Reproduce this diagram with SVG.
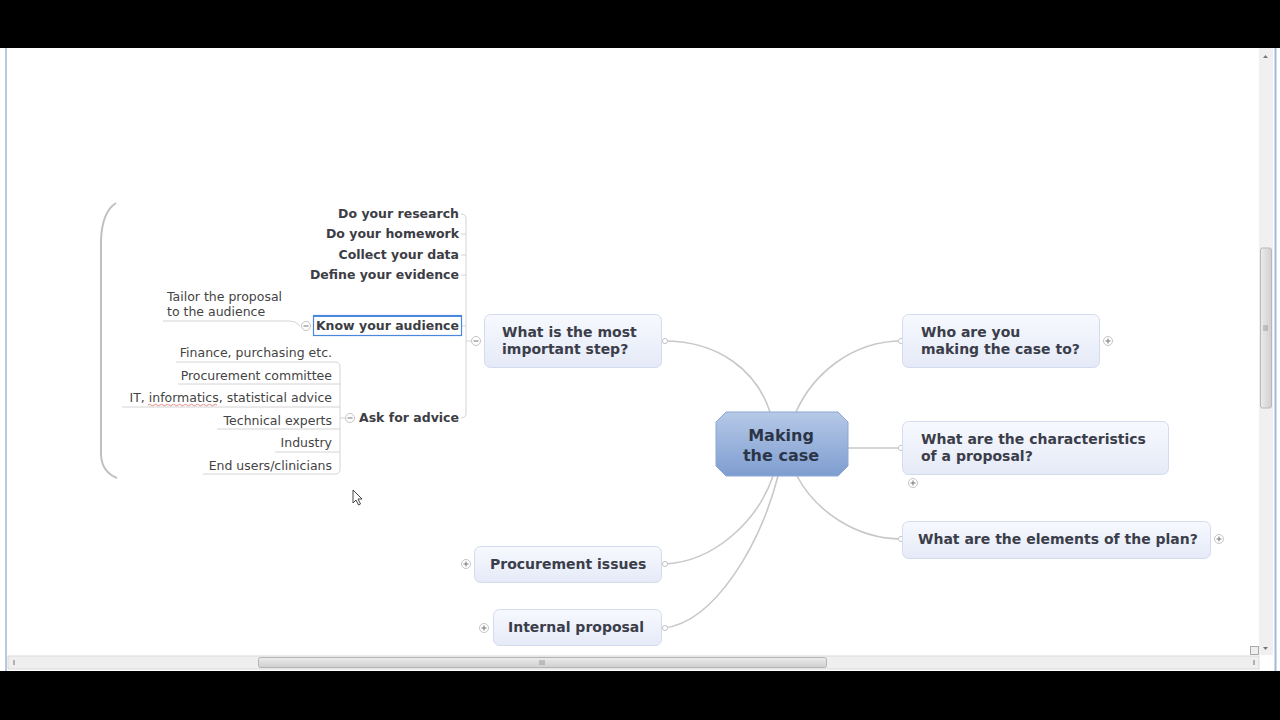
<svg xmlns="http://www.w3.org/2000/svg" width="1280" height="720" viewBox="0 0 1280 720">
<defs>
<linearGradient id="gTopic" x1="0" y1="0" x2="0" y2="1"><stop offset="0" stop-color="#f7f9fe"/><stop offset="1" stop-color="#e5eaf7"/></linearGradient>
<linearGradient id="gCentral" x1="0" y1="0" x2="0" y2="1"><stop offset="0" stop-color="#b6c9e7"/><stop offset="1" stop-color="#7e9dd0"/></linearGradient>
<linearGradient id="gThumbH" x1="0" y1="0" x2="0" y2="1"><stop offset="0" stop-color="#ececec"/><stop offset="1" stop-color="#cfcfcf"/></linearGradient>
<linearGradient id="gThumbV" x1="0" y1="0" x2="1" y2="0"><stop offset="0" stop-color="#ececec"/><stop offset="1" stop-color="#cfcfcf"/></linearGradient>
</defs>
<style>
.topic{fill:url(#gTopic);stroke:#d3dbee;stroke-width:1}
.tt{font-family:"DejaVu Sans",Verdana,sans-serif;font-weight:bold;font-size:14px;fill:#3b3e4a}
.ct{font-family:"DejaVu Sans",Verdana,sans-serif;font-weight:bold;font-size:16px;fill:#2c3548;text-anchor:middle}
.st{font-family:"DejaVu Sans",Verdana,sans-serif;font-weight:bold;font-size:12.5px;fill:#3d3d45;text-anchor:end}
.nt{font-family:"DejaVu Sans",Verdana,sans-serif;font-size:12.5px;fill:#444}
.ntr{font-family:"DejaVu Sans",Verdana,sans-serif;font-size:12.5px;fill:#444;text-anchor:end}
.conn{fill:none;stroke:#c8c8c8;stroke-width:1.6}
.thin{fill:none;stroke:#d4d4d4;stroke-width:1}
.dot{fill:#fff;stroke:#c4c4c4;stroke-width:1}
.tog{fill:#fff;stroke:#c4c4c4;stroke-width:1}
.sym{stroke:#777;stroke-width:1;fill:none}
</style>
<rect x="0" y="0" width="1280" height="720" fill="#000"/>
<rect x="0" y="48" width="1280" height="623" fill="#fff"/>
<line x1="6" y1="48" x2="6" y2="671" stroke="#b8c9df" stroke-width="2"/>
<line x1="1275.5" y1="48" x2="1275.5" y2="671" stroke="#a3b9d8" stroke-width="2"/>
<!-- scrollbars -->
<g id="scrollbars">
<rect x="1259" y="48" width="14" height="607" fill="#f0f0f0"/>
<rect x="1260.5" y="248" width="11" height="160" rx="2" fill="url(#gThumbV)" stroke="#b8b8b8"/>
<path d="M1263 326h5M1263 328h5M1263 330h5" stroke="#888" stroke-width="0.8"/>
<path d="M1263 58l2.5-3 2.5 3z" fill="#777"/>
<path d="M1263 647l2.5 3 2.5-3z" fill="#777"/>
<rect x="8" y="656" width="1251" height="13" fill="#efefef" stroke="#d9d9d9"/>
<rect x="258.5" y="657.5" width="568" height="10" rx="2" fill="url(#gThumbH)" stroke="#b5b5b5"/>
<path d="M540 660v5M542 660v5M544 660v5" stroke="#888" stroke-width="0.8"/>
<path d="M14 660v5" stroke="#888" stroke-width="1.2"/>
<path d="M1254 660v5" stroke="#888" stroke-width="1.2"/>
<rect x="1250.5" y="646.5" width="8" height="8" fill="#eee" stroke="#aaa"/>
</g>
<!-- connectors -->
<g id="connectors">
<path class="conn" d="M664 341 C720 341 757 372 770 412"/>
<path class="conn" d="M796 412 C812 376 850 341 902 341"/>
<path class="conn" d="M848 448 L902 448"/>
<path class="conn" d="M797 476 C815 510 855 539 902 539"/>
<path class="conn" d="M664 564 C715 562 758 520 773 476"/>
<path class="conn" d="M664 628 C715 622 760 545 778 476"/>
<circle class="dot" cx="665" cy="341" r="2.6"/>
<circle class="dot" cx="901" cy="341" r="2.6"/>
<circle class="dot" cx="901" cy="448" r="2.6"/>
<circle class="dot" cx="901" cy="539" r="2.6"/>
<circle class="dot" cx="665" cy="564" r="2.6"/>
<circle class="dot" cx="665" cy="628" r="2.6"/>
<!-- left tree -->
<path class="thin" d="M471 341 L466 341"/>
<path class="thin" d="M461 214 Q466 214 466 219 L466 413 Q466 418 461 418"/>
<path class="thin" d="M461 234 H466 M461 255 H466 M461 275 H466 M462 326 H466"/>
<path class="thin" d="M163 321 H290 Q296 321 300 326"/>
<path class="thin" d="M176 362 H335 Q340 362 340 367 L340 469 Q340 474 335 474 H203"/>
<path class="thin" d="M178 384 H340 M122 407 H340 M217 429 H340 M275 452 H340"/>
<path class="thin" d="M340 418 H345"/>
<path d="M116 203 Q102 212 101 240 L101 455 Q102 472 117 478" fill="none" stroke="#c0c0c0" stroke-width="2"/>
</g>
<g id="central">
<polygon points="726,412 838,412 848,422 848,466 838,476 726,476 716,466 716,422" fill="url(#gCentral)" stroke="#8ba6d4"/>
<text class="ct" x="781" y="441">Making</text>
<text class="ct" x="781" y="461">the case</text>
</g>
<g id="n-step">
<rect class="topic" x="484.5" y="314.5" width="177" height="53" rx="6"/>
<text class="tt" x="502" y="337">What is the most</text>
<text class="tt" x="502" y="354">important step?</text>
<circle class="tog" cx="476" cy="341" r="4.5"/><path class="sym" d="M473.5 341h5"/>
</g>
<g id="n-who">
<rect class="topic" x="902.5" y="314.5" width="197" height="53" rx="6"/>
<text class="tt" x="921" y="337">Who are you</text>
<text class="tt" x="921" y="354">making the case to?</text>
<circle class="tog" cx="1108" cy="341" r="4.5"/><path class="sym" d="M1105.5 341h5M1108 338.5v5"/>
</g>
<g id="n-char">
<rect class="topic" x="902.5" y="421.5" width="266" height="53" rx="6"/>
<text class="tt" x="921" y="444">What are the characteristics</text>
<text class="tt" x="921" y="461">of a proposal?</text>
<circle class="tog" cx="913" cy="483" r="4.5"/><path class="sym" d="M910.5 483h5M913 480.5v5"/>
</g>
<g id="n-elements">
<rect class="topic" x="902.5" y="521.5" width="308" height="37" rx="6"/>
<text class="tt" x="918" y="544">What are the elements of the plan?</text>
<circle class="tog" cx="1219" cy="539" r="4.5"/><path class="sym" d="M1216.5 539h5M1219 536.5v5"/>
</g>
<g id="n-procurement">
<rect class="topic" x="474.5" y="546.5" width="187" height="36" rx="6"/>
<text class="tt" x="490" y="569">Procurement issues</text>
<circle class="tog" cx="466" cy="564" r="4.5"/><path class="sym" d="M463.5 564h5M466 561.5v5"/>
</g>
<g id="n-internal">
<rect class="topic" x="493.5" y="609.5" width="168" height="36" rx="6"/>
<text class="tt" x="508" y="632">Internal proposal</text>
<circle class="tog" cx="484" cy="628" r="4.5"/><path class="sym" d="M481.5 628h5M484 625.5v5"/>
</g>
<g id="n-research"><text class="st" x="459" y="218">Do your research</text></g>
<g id="n-homework"><text class="st" x="459" y="238">Do your homework</text></g>
<g id="n-data"><text class="st" x="459" y="259">Collect your data</text></g>
<g id="n-evidence"><text class="st" x="459" y="279">Define your evidence</text></g>
<g id="n-audience">
<rect x="313.5" y="315.5" width="148" height="20" fill="#fff" stroke="#4a88dc" stroke-width="1.2"/>
<line x1="313.5" y1="316" x2="461.5" y2="316" stroke="#4a88dc" stroke-width="2"/>
<text class="st" x="459" y="330">Know your audience</text>
<circle class="tog" cx="306" cy="326" r="4.5"/><path class="sym" d="M303.5 326h5"/>
</g>
<g id="n-tailor">
<text class="nt" x="167" y="301">Tailor the proposal</text>
<text class="nt" x="167" y="316">to the audience</text>
</g>
<g id="n-advice">
<text class="st" x="459" y="422">Ask for advice</text>
<circle class="tog" cx="350" cy="418" r="4.5"/><path class="sym" d="M347.5 418h5"/>
</g>
<g id="n-finance"><text class="ntr" x="332" y="357">Finance, purchasing etc.</text></g>
<g id="n-committee"><text class="ntr" x="332" y="380">Procurement committee</text></g>
<g id="n-it"><text class="ntr" x="332" y="402">IT, informatics, statistical advice</text>
<path d="M148 405 q1.5 -1.5 3 0 t3 0 t3 0 t3 0 t3 0 t3 0 t3 0 t3 0 t3 0 t3 0 t3 0 t3 0 t3 0 t3 0 t3 0 t3 0 t3 0 t3 0 t3 0 t3 0 t3 0 t3 0 t3 0" fill="none" stroke="#e07070" stroke-width="0.8"/></g>
<g id="n-technical"><text class="ntr" x="332" y="425">Technical experts</text></g>
<g id="n-industry"><text class="ntr" x="332" y="447">Industry</text></g>
<g id="n-endusers"><text class="ntr" x="332" y="470">End users/clinicians</text></g>
<g id="cursor"><path d="M353 490 L353 503 L356 500 L358.5 505 L360.5 504 L358 499 L362 499 Z" fill="#fff" stroke="#333" stroke-width="0.9"/></g>
</svg>
